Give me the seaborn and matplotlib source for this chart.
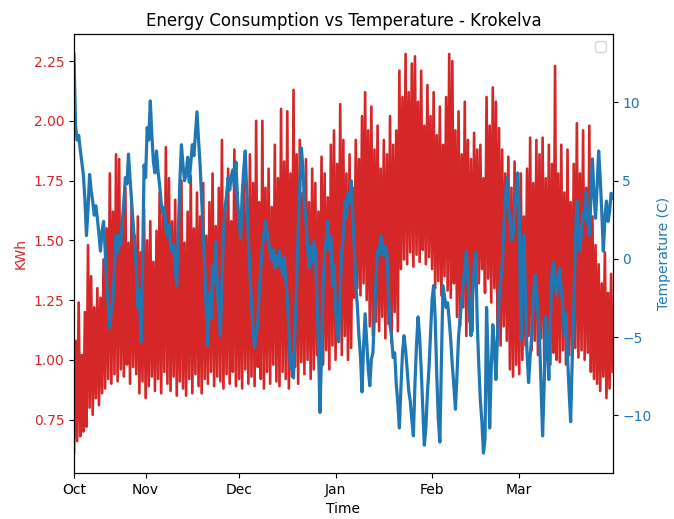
import pandas as pd
import matplotlib
matplotlib.use('Agg')
import matplotlib.pyplot as plt
import matplotlib.dates as mdates
import seaborn as sns

# half-daily readings, Oct 9 -> Mar 31
inicio = '2022-10-09'

kwh = [0.61, 1.08, 0.66, 1.24, 0.68, 1.02, 0.70, 1.20, 0.72, 1.48,
       0.80, 1.35, 0.77, 1.22, 0.84, 1.30, 0.81, 1.26, 0.86, 1.42,
       0.88, 1.55, 0.92, 1.78, 0.90, 1.62, 0.94, 1.86, 0.91, 1.84,
       0.96, 1.58, 0.93, 1.72, 0.98, 1.49, 0.90, 1.66, 0.97, 1.52,
       0.94, 1.60, 0.86, 1.45, 0.91, 1.63, 0.84, 1.50, 0.89, 1.58,
       0.93, 1.41, 0.87, 1.54, 0.92, 1.70, 0.86, 1.62, 0.95, 1.89,
       0.90, 1.76, 0.87, 1.58, 0.93, 1.67, 0.85, 1.53, 0.91, 1.75,
       0.88, 1.49, 0.85, 1.62, 0.92, 1.77, 0.86, 1.55, 0.94, 1.70,
       0.89, 1.60, 0.86, 1.74, 0.92, 1.52, 0.90, 1.66, 0.95, 1.78,
       0.89, 1.56, 0.93, 1.72, 0.91, 1.92, 0.88, 1.63, 0.94, 1.80,
       0.90, 1.58, 0.95, 1.88, 0.89, 1.70, 0.92, 1.62, 0.88, 1.76,
       0.96, 1.68, 0.90, 1.86, 0.93, 1.74, 0.89, 2.00, 0.97, 1.66,
       0.92, 2.00, 0.88, 1.72, 0.95, 1.80, 0.90, 1.64, 0.98, 1.90,
       0.91, 1.76, 0.89, 2.05, 0.95, 1.83, 0.92, 2.04, 0.88, 1.78,
       0.93, 2.13, 0.97, 1.86, 0.90, 1.92, 0.99, 1.70, 0.94, 1.84,
       1.00, 1.66, 0.92, 1.80, 0.96, 1.74, 1.02, 1.62, 0.95, 1.85,
       0.98, 1.78, 1.04, 1.68, 0.96, 1.90, 1.06, 1.96, 1.00, 1.82,
       1.08, 2.07, 1.02, 1.92, 1.10, 1.78, 1.00, 1.86, 1.05, 1.72,
       1.26, 1.92, 1.30, 1.84, 1.27, 2.02, 1.32, 2.12, 1.25, 1.96,
       1.14, 2.06, 1.10, 1.88, 1.16, 1.98, 1.12, 1.80, 1.18, 1.92,
       1.09, 1.86, 1.15, 2.02, 1.07, 1.90, 1.20, 1.96, 1.12, 2.21,
       1.38, 2.10, 1.42, 2.28, 1.40, 2.12, 1.45, 2.24, 1.39, 2.27,
       1.44, 2.08, 1.41, 2.21, 1.46, 1.98, 1.40, 2.15, 1.43, 2.02,
       1.38, 2.12, 1.30, 1.94, 1.33, 2.06, 1.27, 1.90, 1.35, 2.10,
       1.29, 2.28, 1.26, 2.25, 1.32, 1.96, 1.18, 2.04, 1.14, 1.86,
       1.22, 2.08, 1.10, 1.92, 1.16, 1.84, 1.12, 1.95, 1.36, 1.88,
       1.32, 1.90, 1.38, 1.76, 1.28, 2.10, 1.34, 1.98, 1.24, 2.14,
       1.30, 2.08, 1.12, 1.97, 1.06, 1.88, 1.14, 1.78, 1.08, 1.85,
       0.96, 1.72, 0.93, 1.83, 0.98, 1.66, 0.94, 1.78, 1.00, 1.60,
       1.06, 1.80, 1.10, 1.93, 1.04, 1.74, 1.08, 1.92, 1.02, 1.86,
       1.09, 1.93, 1.00, 1.76, 1.04, 1.90, 0.98, 1.82, 1.03, 2.23,
       1.00, 1.78, 0.99, 1.90, 1.04, 1.70, 0.98, 1.88, 1.02, 1.66,
       1.00, 1.82, 1.05, 1.99, 1.01, 1.78, 1.04, 1.96, 1.00, 1.72,
       1.03, 1.98, 0.95, 1.60, 0.92, 1.48, 0.90, 1.40, 0.87, 1.32,
       0.93, 1.45, 0.84, 1.28, 0.88, 1.36, 0.95]

temp = [13.1, 8.5, 7.6, 7.9, 7.0, 6.2, 5.4, 3.8, 1.5, 3.2,
        5.4, 4.4, 3.7, 2.8, 3.4, 2.6, 1.6, 0.5, 1.8, 2.4,
        0.6, -1.7, -2.9, -4.4, -3.2, -2.7, -0.6, 1.5, 0.4, 1.5,
        0.9, 2.4, 3.6, 5.2, 4.8, 6.7, 5.1, 3.7, 2.2, 0.8,
        -0.6, -3.1, -2.0, -5.3, -0.8, 6.0, 5.2, 8.4, 7.6, 10.1,
        7.9, 6.2, 5.5, 6.9, 5.6, 4.7, 3.6, 2.9, 3.3, 2.0,
        1.4, 2.2, 0.9, 0.5, 0.9, -0.6, -1.7, 1.8, 5.0, 7.3,
        6.0, 5.0, 5.4, 6.5, 4.9, 6.1, 7.3, 6.6, 8.0, 9.4,
        7.6, 6.0, 3.8, 1.5, -0.6, -3.5, -5.5, -2.2, -3.8, -0.4,
        -1.6, 1.1, -1.8, -3.3, -4.9, -1.5, 1.6, 3.3, 4.1, 5.2,
        4.4, 5.3, 5.7, 4.6, 6.2, 3.9, 2.5, 1.3, 4.1, 5.7,
        6.9, 4.0, 1.3, -0.8, -2.9, -4.4, -5.7, -4.8, -4.2, -2.0,
        -0.6, 0.8, 1.6, 2.4, 1.7, 1.0, 0.5, -0.1, 0.6, -0.6,
        0.2, -0.4, 0.5, -0.3, -1.0, 0.1, -1.3, -2.5, -4.6, -7.0,
        -6.1, -7.6, -4.4, -1.7, 1.8, 4.6, 7.1, 5.9, 3.6, 2.4,
        0.9, -0.6, 0.8, -0.2, 1.1, 0.5, -2.2, -5.5, -9.8, -6.0,
        -1.7, 0.4, 1.2, 2.4, 0.6, 1.4, -1.7, -0.4, -3.2, -4.6,
        -5.3, -2.0, 0.5, 1.4, 3.7, 2.6, 4.2, 3.6, 5.0, 3.0,
        0.8, -1.6, -3.0, -4.9, -6.2, -8.5, -5.6, -3.5, -5.2, -7.0,
        -8.1, -6.4, -6.0, -3.5, -1.2, 0.5, 0.3, 1.5, 1.0, 0.2,
        0.8, 0.4, -2.2, -4.2, -5.0, -6.3, -6.0, -8.0, -9.2, -10.8,
        -8.2, -6.0, -4.9, -5.8, -7.1, -8.4, -9.1, -10.3, -11.3, -8.0,
        -5.5, -3.7, -5.0, -7.0, -9.5, -11.9, -10.8, -8.6, -7.0, -4.8,
        -2.6, -1.7, -3.8, -7.4, -10.2, -11.7, -6.5, -1.7, -2.4, -3.1,
        -2.8, -3.9, -5.2, -6.8, -8.1, -9.6, -7.4, -5.0, -3.8, -2.7,
        -1.6, -0.5, 0.5, -1.2, -3.0, -4.9, -2.4, -0.6, 0.4, -4.0,
        -6.8, -9.0, -10.4, -12.4, -11.5, -3.1, -6.5, -10.8, -7.0, -4.2,
        -5.6, -7.7, -5.0, -2.6, -1.4, -0.6, 1.8, 3.6, 5.2, 3.4,
        2.6, 1.2, 1.5, 3.0, 4.4, 5.5, 2.8, -5.2, -0.6, 1.5,
        -2.5, -6.0, -7.9, -6.2, -4.9, -2.8, -1.0, -1.9, -3.4, -4.9,
        -8.0, -11.3, -8.0, -3.7, -5.6, -7.7, -4.0, -0.8, -0.2, -1.5,
        -2.3, -1.0, -0.6, -2.0, -3.0, -4.9, -3.5, -6.2, -8.4, -10.4,
        -6.5, -3.3, 1.0, 3.7, 2.0, 0.5, 1.8, 3.0, 2.5, 4.3,
        2.4, 1.5, 3.8, 6.4, 4.1, 2.6, 4.6, 6.9, 5.2, 3.0,
        0.5, 2.6, 3.7, 2.4, 3.0, 4.2, 3.9]

df = pd.DataFrame({'Time': pd.date_range(inicio, periods=len(kwh), freq='12h'),
                   'KWh': kwh,
                   'Temp': temp})

rojo = 'tab:red'
azul = 'tab:blue'

fig, ax1 = plt.subplots(figsize=(6.74, 5.19), dpi=100)
fig.subplots_adjust(left=0.1098, right=0.909, bottom=0.0886, top=0.9345)

sns.lineplot(data=df, x='Time', y='KWh', color=rojo, linewidth=1.9, ax=ax1)
ax1.set_xlabel('Time')
ax1.set_ylabel('KWh', color=rojo)
ax1.tick_params(axis='y', labelcolor=rojo)

ax2 = ax1.twinx()
sns.lineplot(data=df, x='Time', y='Temp', color=azul, linewidth=2.3, ax=ax2)
ax2.set_ylabel('Temperature (C)', color=azul)
ax2.tick_params(axis='y', labelcolor=azul)

# first tick sits on the first reading, then month starts
meses = [df.Time.iloc[0]] + list(pd.date_range('2022-11-01', '2023-03-01', freq='MS'))
ax1.set_xlim(df.Time.iloc[0], df.Time.iloc[-1])
ax1.set_xticks([m.to_pydatetime() for m in meses])
ax1.xaxis.set_major_formatter(mdates.DateFormatter('%b'))

ax1.set_title('Energy Consumption vs Temperature - Krokelva')
ax2.legend(loc='upper right')

plt.savefig('out.png', dpi=100)
